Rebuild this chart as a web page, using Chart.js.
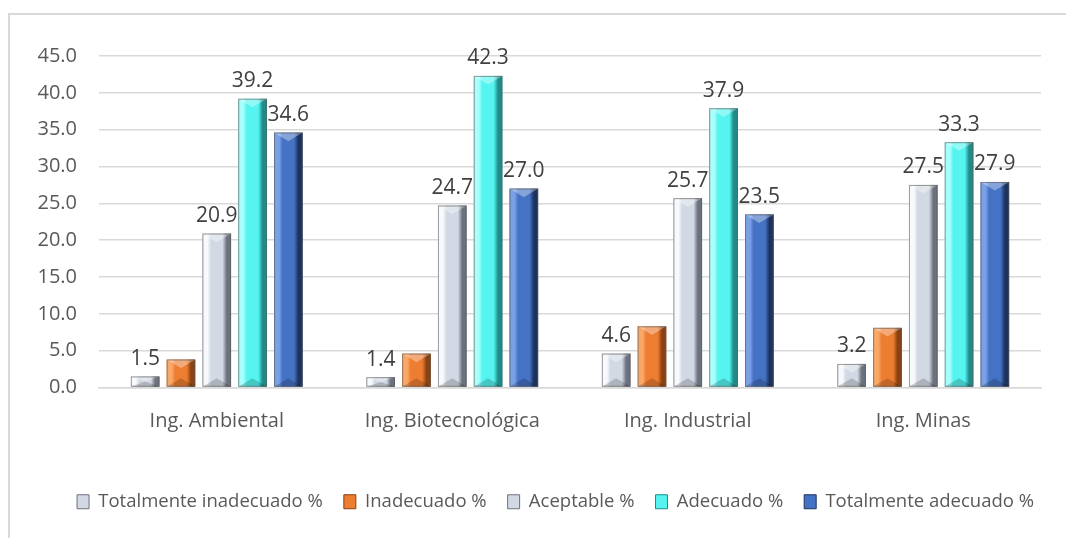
<!DOCTYPE html>
<html>
<head>
<meta charset="utf-8">
<script src="https://cdn.jsdelivr.net/npm/chart.js@4.4.1/dist/chart.umd.min.js"></script>
<style>
    html, body { margin: 0; padding: 0; background: #fff; }
    #wrap { position: relative; width: 1066px; height: 538px; }
    #frame { position: absolute; left: 8px; top: 13px; width: 1100px; height: 600px;
             border-left: 2px solid #d9d9d9; border-top: 2px solid #d9d9d9; box-sizing: border-box; }
    canvas { position: absolute; left: 0; top: 0; }
</style>
</head>
<body>
<div id="wrap">
    <div id="frame"></div>
    <canvas id="myChart" width="1066" height="538"></canvas>
</div>
<script>
const categorias = ['Ing. Ambiental', 'Ing. Biotecnológica', 'Ing. Industrial', 'Ing. Minas'];
const series = ['Totalmente inadecuado %', 'Inadecuado %', 'Aceptable %', 'Adecuado %', 'Totalmente adecuado %'];
const totInadecuado = [1.5, 1.4, 4.6, 3.2];
const inadecuado = [3.8, 4.6, 8.3, 8.1];
const aceptable = [20.9, 24.7, 25.7, 27.5];
const adecuado = [39.2, 42.3, 37.9, 33.3];
const totAdecuado = [34.6, 27.0, 23.5, 27.9];
const conEtiqueta = [true, false, true, true, true];

// light / base / dark tones for the bevel look
const tonos = [
    ['#f7f9fc', '#d3d9e4', '#6b717d'],
    ['#f9a868', '#ed7d31', '#8a4212'],
    ['#f7f9fc', '#d3d9e4', '#6b717d'],
    ['#a8fffc', '#55f4f0', '#1f8c89'],
    ['#7aa0e6', '#4472c4', '#1d335e']
];

const bevel = {
    id: 'bevel',
    afterDatasetsDraw(chart) {
        const ctx = chart.ctx;
        chart.data.datasets.forEach((ds, i) => {
            const [claro, base, oscuro] = tonos[i];
            chart.getDatasetMeta(i).data.forEach((bar) => {
                const w = bar.width, l = bar.x - w / 2, r = bar.x + w / 2;
                const t = bar.y, b = bar.base, h = b - t;
                const g = ctx.createLinearGradient(l, 0, r, 0);
                g.addColorStop(0, claro);
                g.addColorStop(0.18, claro);
                g.addColorStop(0.3, base);
                g.addColorStop(0.7, base);
                g.addColorStop(0.85, oscuro);
                g.addColorStop(1, oscuro);
                ctx.save();
                ctx.fillStyle = g;
                ctx.fillRect(l, t, w, h);
                const bh = Math.min(w * 0.3, h / 2);
                ctx.fillStyle = 'rgba(255,255,255,0.35)';
                ctx.beginPath();
                ctx.moveTo(l, t); ctx.lineTo(r, t); ctx.lineTo(bar.x, t + bh); ctx.closePath();
                ctx.fill();
                ctx.fillStyle = 'rgba(0,0,0,0.18)';
                ctx.beginPath();
                ctx.moveTo(l, b); ctx.lineTo(r, b); ctx.lineTo(bar.x, b - bh); ctx.closePath();
                ctx.fill();
                ctx.strokeStyle = 'rgba(90,90,90,0.6)';
                ctx.lineWidth = 1;
                ctx.strokeRect(l + 0.5, t + 0.5, w - 1, h - 1);
                ctx.restore();
            });
        });
    }
};

const etiquetas = {
    id: 'etiquetas',
    afterDatasetsDraw(chart) {
        const ctx = chart.ctx;
        ctx.save();
        ctx.font = '21px "Open Sans"';
        ctx.fillStyle = '#404040';
        ctx.textAlign = 'center';
        ctx.textBaseline = 'bottom';
        chart.data.datasets.forEach((ds, i) => {
            if (!conEtiqueta[i]) return;
            chart.getDatasetMeta(i).data.forEach((bar, j) => {
                ctx.fillText(ds.data[j].toFixed(1), bar.x, bar.y - 7);
            });
        });
        ctx.restore();
    }
};

// nudge the legend a little to the right, like the original
const moverLeyenda = {
    id: 'moverLeyenda',
    afterLayout(chart) {
        if (chart.legend) {
            chart.legend.left += 30;
            chart.legend.right += 30;
        }
    }
};

const valores = [totInadecuado, inadecuado, aceptable, adecuado, totAdecuado];

const data = {
    labels: categorias,
    datasets: valores.map((v, i) => ({
        label: series[i],
        data: v,
        backgroundColor: tonos[i][1],
        borderColor: tonos[i][2],
        borderWidth: 1,
        categoryPercentage: 0.76,
        barPercentage: 0.8
    }))
};

const config = {
    type: 'bar',
    data: data,
    options: {
        responsive: false,
        animation: false,
        layout: { padding: { top: 56, right: 25, left: 10, bottom: 17 } },
        scales: {
            x: {
                grid: { display: false },
                border: { display: true, color: '#d9d9d9', width: 1.5 },
                ticks: { color: '#595959', font: { family: 'Open Sans', size: 20 }, padding: 14 },
                afterFit: (scale) => { scale.height += 24; }
            },
            y: {
                min: 0,
                max: 45,
                ticks: {
                    stepSize: 5,
                    color: '#595959',
                    font: { family: 'Open Sans', size: 20 },
                    padding: 22,
                    callback: (v) => Number(v).toFixed(1)
                },
                grid: { color: '#d9d9d9', lineWidth: 1.5, drawTicks: false },
                border: { display: false },
                afterFit: (scale) => { scale.width = 89; }
            }
        },
        plugins: {
            legend: {
                position: 'bottom',
                labels: {
                    color: '#595959',
                    font: { family: 'Open Sans', size: 18.5 },
                    boxWidth: 12,
                    boxHeight: 14,
                    padding: 21
                }
            },
            tooltip: { enabled: false }
        }
    },
    plugins: [bevel, etiquetas, moverLeyenda]
};

const myChart = new Chart(document.getElementById('myChart'), config);
</script>
</body>
</html>
